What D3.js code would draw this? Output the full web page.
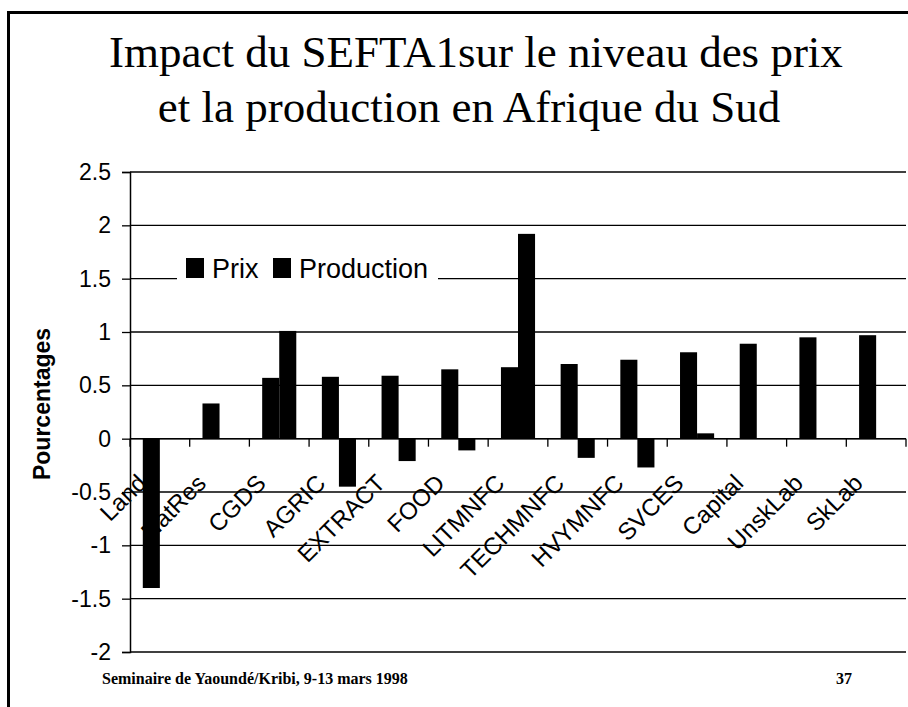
<!DOCTYPE html>
<html>
<head>
<meta charset="utf-8">
<script src="https://cdn.jsdelivr.net/npm/d3@7"></script>
<style>
    body { margin: 0; background: #fff; }
    svg text { fill: #000; }
    .tick-label, .cat-label, .legend-label { font-family: Arial, "Liberation Sans", sans-serif; }
    .serif { font-family: "Times New Roman", "Liberation Serif", serif; }
</style>
</head>
<body>
<div id="chart"></div>
<script>
const WIDTH = 908;
const HEIGHT = 707;

// Chart values
const categories = ["Land", "NatRes", "CGDS", "AGRIC", "EXTRACT", "FOOD", "LITMNFC",
    "TECHMNFC", "HVYMNFC", "SVCES", "Capital", "UnskLab", "SkLab"];
const seriesNames = ["Prix", "Production"];
const prix = [-1.40, 0.33, 0.57, 0.58, 0.59, 0.65, 0.67, 0.70, 0.74, 0.81, 0.89, 0.95, 0.97];
const production = [0, 0, 1.01, -0.45, -0.21, -0.11, 1.92, -0.18, -0.27, 0.05, 0, 0, 0];
const yTicks = [2.5, 2, 1.5, 1, 0.5, 0, -0.5, -1, -1.5, -2];
const yTickLabels = ["2.5", "2", "1.5", "1", "0.5", "0", "-0.5", "-1", "-1.5", "-2"];

const titleLines = ["Impact du SEFTA1sur le niveau des prix", "et la production en Afrique du Sud"];
const yTitle = "Pourcentages";
const footer = "Seminaire de Yaoundé/Kribi, 9-13 mars 1998";
const pageNumber = "37";

const PLOT = { left: 130, right: 906, top: 172, bottom: 652 };

const svg = d3.select("#chart")
    .append("svg")
    .attr("width", WIDTH)
    .attr("height", HEIGHT);

svg.append("rect")
    .attr("width", WIDTH)
    .attr("height", HEIGHT)
    .attr("fill", "#fff");

// Slide frame (only the left and top edges are visible)
svg.append("path")
    .attr("d", `M8.5,${HEIGHT}V12.5H${WIDTH}`)
    .attr("fill", "none")
    .attr("stroke", "#000")
    .attr("stroke-width", 3);

// Title
const titleX = [476, 469];
svg.append("g")
    .selectAll("text")
    .data(titleLines)
    .join("text")
    .attr("class", "serif")
    .attr("x", (d, i) => titleX[i])
    .attr("y", (d, i) => 67 + i * 55)
    .attr("text-anchor", "middle")
    .attr("font-size", 45)
    .text(d => d);

// Scales
const x = d3.scaleBand()
    .domain(categories)
    .range([PLOT.left, PLOT.right])
    .padding(0);

// gap width 150% of a bar -> 0.75 bar on each side of the pair
const xSeries = d3.scaleBand()
    .domain(seriesNames)
    .range([0, x.bandwidth()])
    .paddingInner(0)
    .paddingOuter(0.75);

const y = d3.scaleLinear()
    .domain([-2, 2.5])
    .range([PLOT.bottom, PLOT.top]);

// Gridlines
svg.append("g")
    .selectAll("line")
    .data(yTicks)
    .join("line")
    .attr("x1", PLOT.left)
    .attr("x2", PLOT.right)
    .attr("y1", d => y(d))
    .attr("y2", d => y(d))
    .attr("stroke", "#000")
    .attr("stroke-width", 1.4);

// Y axis with the slide's own labels
const yAxis = d3.axisLeft(y)
    .tickValues(yTicks)
    .tickSize(8)
    .tickPadding(11)
    .tickFormat((d, i) => yTickLabels[i]);

const yAxisGroup = svg.append("g")
    .attr("transform", `translate(${PLOT.left},0)`)
    .call(yAxis);
yAxisGroup.select(".domain").attr("stroke", "#000").attr("stroke-width", 1.5);
yAxisGroup.selectAll(".tick line").attr("stroke", "#000").attr("stroke-width", 1.3);
yAxisGroup.selectAll(".tick text")
    .attr("class", "tick-label")
    .attr("font-size", 23)
    .attr("fill", "#000");

// Y title
svg.append("text")
    .attr("transform", "translate(50,404) rotate(-90)")
    .attr("text-anchor", "middle")
    .attr("font-family", "Arial, 'Liberation Sans', sans-serif")
    .attr("font-weight", "bold")
    .attr("font-size", 23)
    .text(yTitle);

// Category axis along zero, ticks at category boundaries
const y0 = y(0);
const boundaries = categories.map(c => x(c)).concat([x.range()[1]]);

svg.append("line")
    .attr("x1", PLOT.left)
    .attr("x2", PLOT.right)
    .attr("y1", y0)
    .attr("y2", y0)
    .attr("stroke", "#000")
    .attr("stroke-width", 1.5);

svg.append("g")
    .selectAll("line")
    .data(boundaries)
    .join("line")
    .attr("x1", d => d)
    .attr("x2", d => d)
    .attr("y1", y0)
    .attr("y2", y0 + 8)
    .attr("stroke", "#000")
    .attr("stroke-width", 1.3);

// Rotated category labels, drawn before the bars (the Land bar hides part of NatRes)
svg.append("g")
    .selectAll("text")
    .data(categories)
    .join("text")
    .attr("class", "cat-label")
    .attr("font-size", 24)
    .attr("text-anchor", "end")
    .attr("transform", d => `translate(${x(d) + x.bandwidth() / 2 - 12},${y0 + 46}) rotate(-45)`)
    .text(d => d);

// Bars
const rows = categories.map((c, i) => ({
    category: c,
    values: [
        { series: "Prix", value: prix[i] },
        { series: "Production", value: production[i] }
    ]
}));

svg.append("g")
    .selectAll("g")
    .data(rows)
    .join("g")
    .attr("transform", d => `translate(${x(d.category)},0)`)
    .selectAll("rect")
    .data(d => d.values)
    .join("rect")
    .attr("x", d => xSeries(d.series))
    .attr("width", xSeries.bandwidth())
    .attr("y", d => y(Math.max(0, d.value)))
    .attr("height", d => Math.abs(y(d.value) - y(0)))
    .attr("fill", "#000");

// Legend, sitting over the 1.5 gridline
const legend = svg.append("g").attr("transform", "translate(177,256)");
legend.append("rect")
    .attr("width", 261)
    .attr("height", 38)
    .attr("fill", "#fff");

const legendOffsets = [9, 96];
const legendItem = legend.selectAll("g")
    .data(seriesNames)
    .join("g")
    .attr("transform", (d, i) => `translate(${legendOffsets[i]},0)`);
legendItem.append("rect")
    .attr("y", 2)
    .attr("width", 18)
    .attr("height", 20)
    .attr("fill", "#000");
legendItem.append("text")
    .attr("class", "legend-label")
    .attr("x", 26)
    .attr("y", 22)
    .attr("font-size", 27)
    .text(d => d);

// Footer
svg.append("text")
    .attr("class", "serif")
    .attr("x", 102)
    .attr("y", 684)
    .attr("font-size", 16)
    .attr("font-weight", "bold")
    .text(footer);

svg.append("text")
    .attr("class", "serif")
    .attr("x", 836)
    .attr("y", 684)
    .attr("font-size", 16)
    .attr("font-weight", "bold")
    .text(pageNumber);
</script>
</body>
</html>
